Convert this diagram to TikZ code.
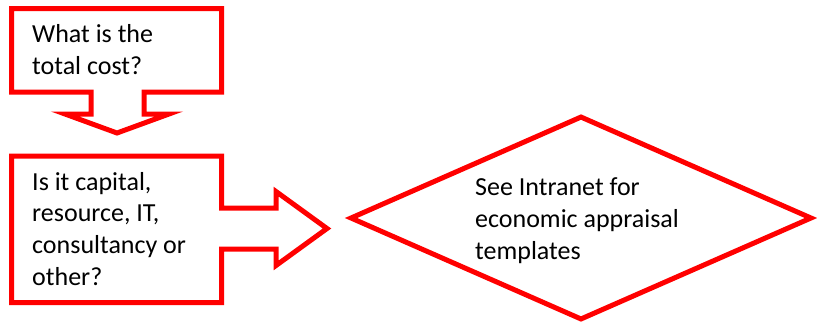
\documentclass[tikz,border=0pt]{standalone}
\usepackage{fontspec}
\setmainfont{Carlito}
\usetikzlibrary{shapes.geometric}

\tikzset{
  callout/.style={draw=red, line width=5pt},
  note/.style={anchor=base west, align=left, inner sep=0pt,
               font=\fontsize{26pt}{31.6pt}\selectfont}
}

\begin{document}
\begin{tikzpicture}[x=1pt, y=-1pt]
  \useasboundingbox (0,0) rectangle (817,325);
  % Top callout, pointing down
  \draw[callout] (11.5,8.5) -- (221.5,8.5) -- (221.5,92) -- (144,92) -- (144,114)
    -- (169,114) -- (117,133) -- (65,114) -- (91,114) -- (91,92) -- (11.5,92) -- cycle;
  \node[note] (cost) at (32,74.5) {What is the\\total cost?};
  % Lower callout, pointing right
  \draw[callout] (11.5,156) -- (221.5,156) -- (221.5,208) -- (276,208) -- (276,191.5)
    -- (327,228.5) -- (276,265.5) -- (276,249) -- (221.5,249) -- (221.5,302.5)
    -- (11.5,302.5) -- cycle;
  \node[note] (kind) at (32,285) {Is it capital,\\resource, IT,\\consultancy or\\other?};
  % Diamond
  \node[callout, diamond, minimum width=462pt, minimum height=204pt, inner sep=0pt]
    (appraisal) at (581,218) {};
  \node[note] (intranet) at (475,259) {See Intranet for\\economic appraisal\\templates};
\end{tikzpicture}
\end{document}
